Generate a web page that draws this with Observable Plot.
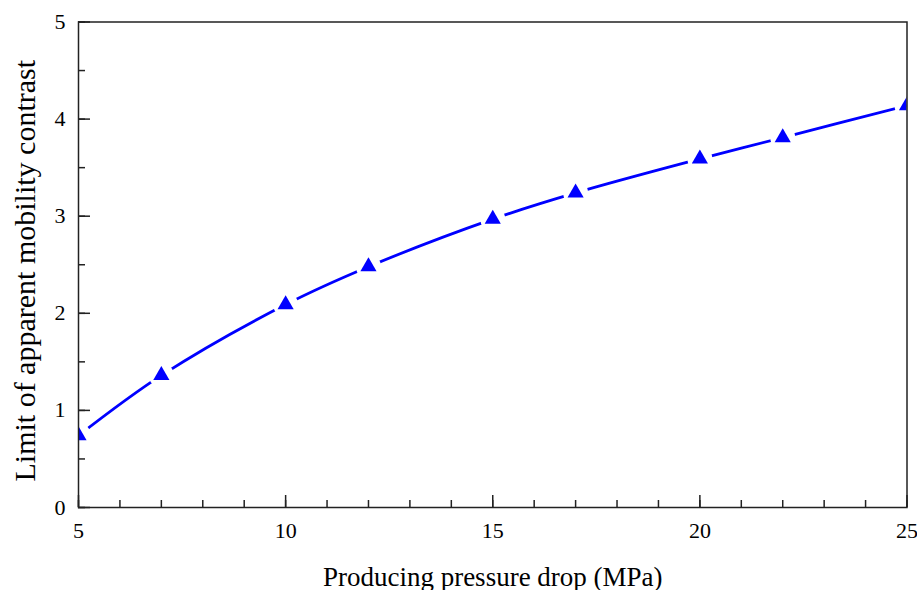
<!DOCTYPE html>
<html>
<head>
<meta charset="utf-8">
<script src="https://cdn.jsdelivr.net/npm/d3@7"></script>
<script src="https://cdn.jsdelivr.net/npm/@observablehq/plot@0.6"></script>
<style>
  html, body { margin: 0; padding: 0; background: #fff; }
  #chart { width: 917px; height: 590px; overflow: hidden; }
</style>
</head>
<body>
<div id="chart"></div>
<script>
const pressureDrop = [5, 7, 10, 12, 15, 17, 20, 22, 25];
const mobilityLimit = [0.74, 1.36, 2.09, 2.48, 2.97, 3.24, 3.59, 3.81, 4.14];
const xMajorTicks = [5, 10, 15, 20, 25];
const xMinorTicks = d3.range(5, 26, 1);
const yMajorTicks = [0, 1, 2, 3, 4, 5];
const yMinorTicks = d3.range(0, 5.01, 0.5);
const xLabel = "Producing pressure drop (MPa)";
const yLabel = "Limit of apparent mobility contrast";

const data = pressureDrop.map((x, i) => ({x, y: mobilityLimit[i]}));
const font = "'Liberation Serif', 'Times New Roman', serif";
const axisColor = "#222";

const chart = Plot.plot({
  width: 917,
  height: 590,
  marginLeft: 78,
  marginRight: 10.5,
  marginTop: 21.5,
  marginBottom: 83,
  style: {fontFamily: font, fontSize: "22px", background: "#fff", color: "#000"},
  x: {domain: [5, 25]},
  y: {domain: [0, 5]},
  marks: [
    Plot.line(data, {x: "x", y: "y", curve: "catmull-rom", stroke: "#0000ff", strokeWidth: 2.8, clip: true}),
    Plot.dot(data, {x: "x", y: "y", r: 12.5, fill: "#fff", stroke: null, clip: true}),
    Plot.dot(data, {x: "x", y: "y", symbol: "triangle", r: 6, fill: "#0000ff", stroke: null, clip: true}),
    Plot.axisX({ticks: xMinorTicks, tickSize: -7, text: null, stroke: axisColor, strokeWidth: 1.5, label: null}),
    Plot.axisX({ticks: xMajorTicks, tickSize: -12, text: null, stroke: axisColor, strokeWidth: 1.5, label: null}),
    Plot.axisX({ticks: xMajorTicks, tickSize: 0, tickPadding: 15, tickFormat: d3.format("d"), fontSize: 22, fill: "#000", label: null}),
    Plot.axisY({ticks: yMinorTicks, tickSize: -7, text: null, stroke: axisColor, strokeWidth: 1.5, label: null}),
    Plot.axisY({ticks: yMajorTicks, tickSize: -12, text: null, stroke: axisColor, strokeWidth: 1.5, label: null}),
    Plot.axisY({ticks: yMajorTicks, tickSize: 0, tickPadding: 13, tickFormat: d3.format("d"), fontSize: 22, fill: "#000", label: null}),
    Plot.frame({stroke: axisColor, strokeWidth: 1.5}),
    Plot.text([xLabel], {text: d => d, frameAnchor: "bottom", textAnchor: "middle", lineAnchor: "bottom", dy: 78, fontSize: 27, fill: "#000"}),
    Plot.text([yLabel], {text: d => d, frameAnchor: "left", rotate: -90, textAnchor: "middle", lineAnchor: "middle", dx: -53, dy: 6, fontSize: 30, fill: "#000"})
  ]
});
document.getElementById("chart").appendChild(chart);
</script>
</body>
</html>
